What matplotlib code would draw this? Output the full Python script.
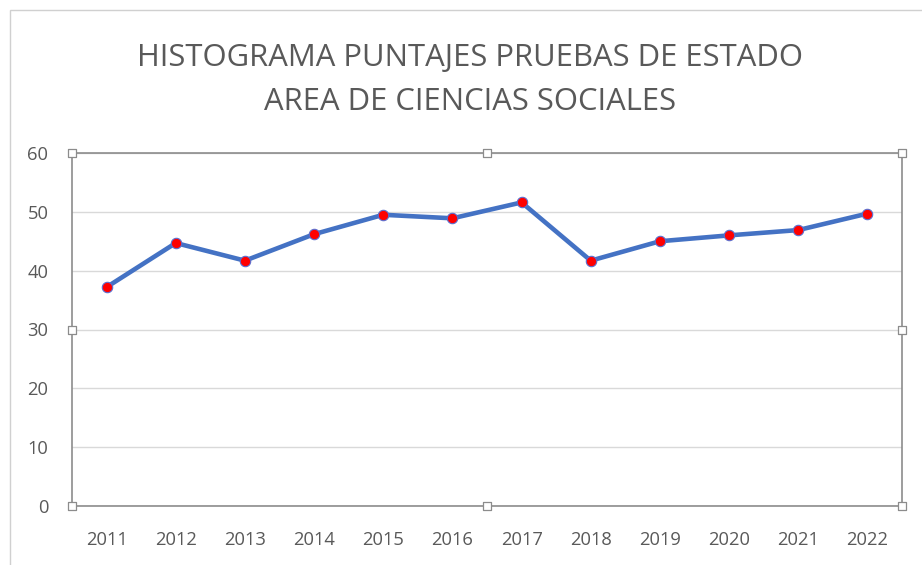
import matplotlib
matplotlib.use("Agg")
import matplotlib.pyplot as plt
from matplotlib.patches import Rectangle

years = ["2011", "2012", "2013", "2014", "2015", "2016", "2017", "2018", "2019", "2020", "2021", "2022"]
scores = [37.2, 44.7, 41.7, 46.2, 49.5, 48.9, 51.6, 41.7, 45.0, 46.0, 46.9, 49.7]
y_ticks = [0, 10, 20, 30, 40, 50, 60]
title = "HISTOGRAMA PUNTAJES PRUEBAS DE ESTADO\nAREA DE CIENCIAS SOCIALES"

plt.rcParams['font.family'] = ['Open Sans', 'DejaVu Sans']

fig = plt.figure(figsize=(9.22, 5.65), dpi=100)
ax = fig.add_axes([72/922, 1-506/565, 830/922, 353/565])

x = list(range(len(years)))
ax.plot(x, scores, color="#4472C4", linewidth=3.3, marker="o", markersize=7.5,
        markerfacecolor="#FF0000", markeredgecolor="#5B6FD0", markeredgewidth=0.8,
        solid_capstyle="round", zorder=3)

ax.set_xlim(-0.5, len(years) - 0.5)
ax.set_ylim(0, 60)
ax.set_yticks(y_ticks)
ax.set_yticklabels([str(v) for v in y_ticks])
ax.set_xticks(x)
ax.set_xticklabels(years)
ax.tick_params(axis="both", length=0, labelsize=13.2, colors="#595959")
ax.tick_params(axis="y", pad=17)
ax.tick_params(axis="x", pad=18)
ax.grid(axis="y", color="#D9D9D9", linewidth=1)
ax.set_axisbelow(True)
for s in ax.spines.values():
    s.set_color("#8C8C8C")
    s.set_linewidth(1.2)

# selection handles on the plot area
hx = [0, 0.5, 1, 0, 1, 0, 0.5, 1]
hy = [1, 1, 1, 0.5, 0.5, 0, 0, 0]
ax.scatter(hx, hy, marker="s", s=40, facecolor="white", edgecolor="#8C8C8C",
           linewidth=0.9, transform=ax.transAxes, clip_on=False, zorder=5)

# chart outer border hints
fig.patches.append(Rectangle((10/922, -0.02), 1.0, 1 - 10/565 + 0.02, transform=fig.transFigure,
                             fill=False, edgecolor="#D0D0D0", linewidth=1.0))

fig.text(470/922, 1 - 80/565, title, ha="center", va="center", fontsize=22.3,
         color="#595959", linespacing=1.6)

fig.savefig("out.png", dpi=100)
